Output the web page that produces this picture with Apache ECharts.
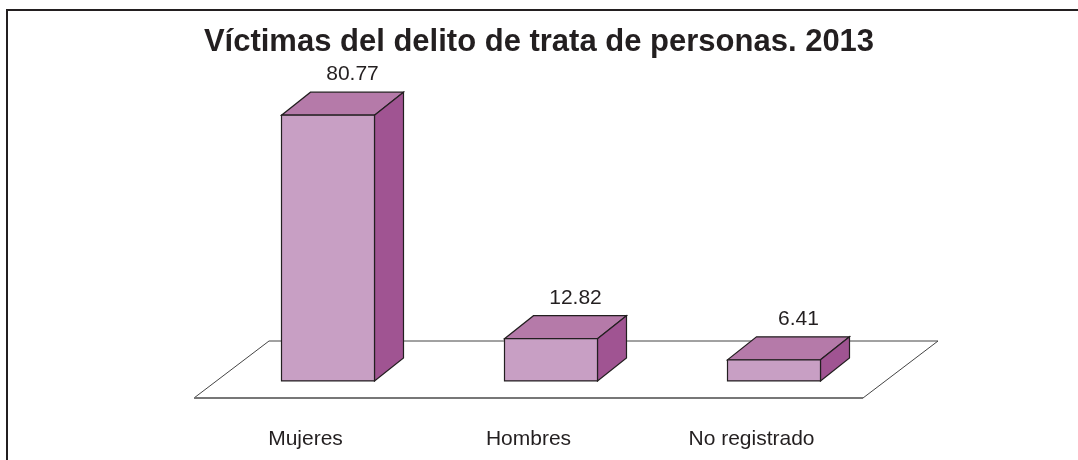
<!DOCTYPE html>
<html>
<head>
<meta charset="utf-8">
<script src="https://cdn.jsdelivr.net/npm/echarts@6/dist/echarts.min.js"></script>
<style>
  html, body { margin: 0; padding: 0; background: #fff; }
  #chart { width: 1078px; height: 460px; }
</style>
</head>
<body>
<div id="chart"></div>
<script>
// datos
const categories = ['Mujeres', 'Hombres', 'No registrado']
const values = [80.77, 12.82, 6.41]

const chart = echarts.init(document.getElementById('chart'))

// profundidad del piso y de las barras (px)
const FLOOR_DX = 75
const FLOOR_DY = -57
const FRONT = 0.3 // posicion de la cara frontal dentro del piso
const BAR_DX = 29
const BAR_DY = -23
const BAR_W = 0.417 // ancho de barra respecto a la categoria

const LINE = '#231f20'

function renderFloor (params, api) {
  const cs = params.coordSys
  const x0 = cs.x
  const x1 = cs.x + cs.width
  const y = cs.y + cs.height
  return {
    type: 'group',
    children: [
      {
        type: 'polygon',
        shape: {
          points: [[x0, y], [x1, y], [x1 + FLOOR_DX, y + FLOOR_DY], [x0 + FLOOR_DX, y + FLOOR_DY]]
        },
        style: { fill: '#fff', stroke: '#444', lineWidth: 1 }
      },
      {
        type: 'line',
        shape: { x1: x0, y1: y, x2: x1, y2: y },
        style: { stroke: '#777', lineWidth: 2 }
      }
    ],
    silent: true
  }
}

function renderBar (params, api) {
  const idx = api.value(0)
  const val = api.value(1)
  const base = api.coord([idx, 0])
  const top = api.coord([idx, val])
  const w = api.size([1, 0])[0] * BAR_W
  const ox = FLOOR_DX * FRONT
  const oy = FLOOR_DY * FRONT
  const xl = base[0] - w / 2 + ox
  const xr = base[0] + w / 2 + ox
  const yb = base[1] + oy
  const yt = top[1] + oy
  return {
    type: 'group',
    children: [
      {
        type: 'polygon',
        shape: { points: [[xl, yt], [xr, yt], [xr + BAR_DX, yt + BAR_DY], [xl + BAR_DX, yt + BAR_DY]] },
        style: { fill: '#b57aa9', stroke: LINE, lineWidth: 1.2 }
      },
      {
        type: 'polygon',
        shape: { points: [[xr, yt], [xr + BAR_DX, yt + BAR_DY], [xr + BAR_DX, yb + BAR_DY], [xr, yb]] },
        style: { fill: '#a05492', stroke: LINE, lineWidth: 1.2 }
      },
      {
        type: 'rect',
        shape: { x: xl, y: yt, width: xr - xl, height: yb - yt },
        style: { fill: '#c89fc4', stroke: LINE, lineWidth: 1.2 }
      },
      {
        type: 'text',
        style: {
          x: base[0] + 47,
          y: yt + BAR_DY - 18,
          text: val.toFixed(2),
          align: 'center',
          verticalAlign: 'middle',
          fill: '#231f20',
          font: '21px "Liberation Sans", Arial, sans-serif'
        }
      }
    ]
  }
}

const option = {
  animation: false,
  title: {
    text: 'Víctimas del delito de trata de personas. 2013',
    left: 'center',
    top: 22,
    textStyle: {
      fontFamily: '"Liberation Sans", Arial, sans-serif',
      fontWeight: 'bold',
      fontSize: 31,
      color: '#231f20'
    }
  },
  grid: {
    left: 194,
    right: 215,
    top: 69,
    bottom: 62
  },
  xAxis: {
    type: 'category',
    data: categories,
    axisLine: { show: false },
    axisTick: { show: false },
    axisLabel: {
      margin: 31,
      fontSize: 21,
      fontFamily: '"Liberation Sans", Arial, sans-serif',
      color: '#231f20'
    }
  },
  yAxis: {
    type: 'value',
    min: 0,
    max: 100,
    show: false
  },
  graphic: [
    {
      type: 'polyline',
      shape: { points: [[7, 470], [7, 10], [1090, 10]] },
      style: { stroke: '#231f20', lineWidth: 2, fill: null },
      silent: true
    }
  ],
  series: [
    {
      type: 'custom',
      renderItem: renderFloor,
      data: [[0, 0]],
      z: 1,
      silent: true
    },
    {
      type: 'custom',
      renderItem: renderBar,
      data: values.map((v, i) => [i, v]),
      z: 2
    }
  ]
}

chart.setOption(option)
</script>
</body>
</html>
